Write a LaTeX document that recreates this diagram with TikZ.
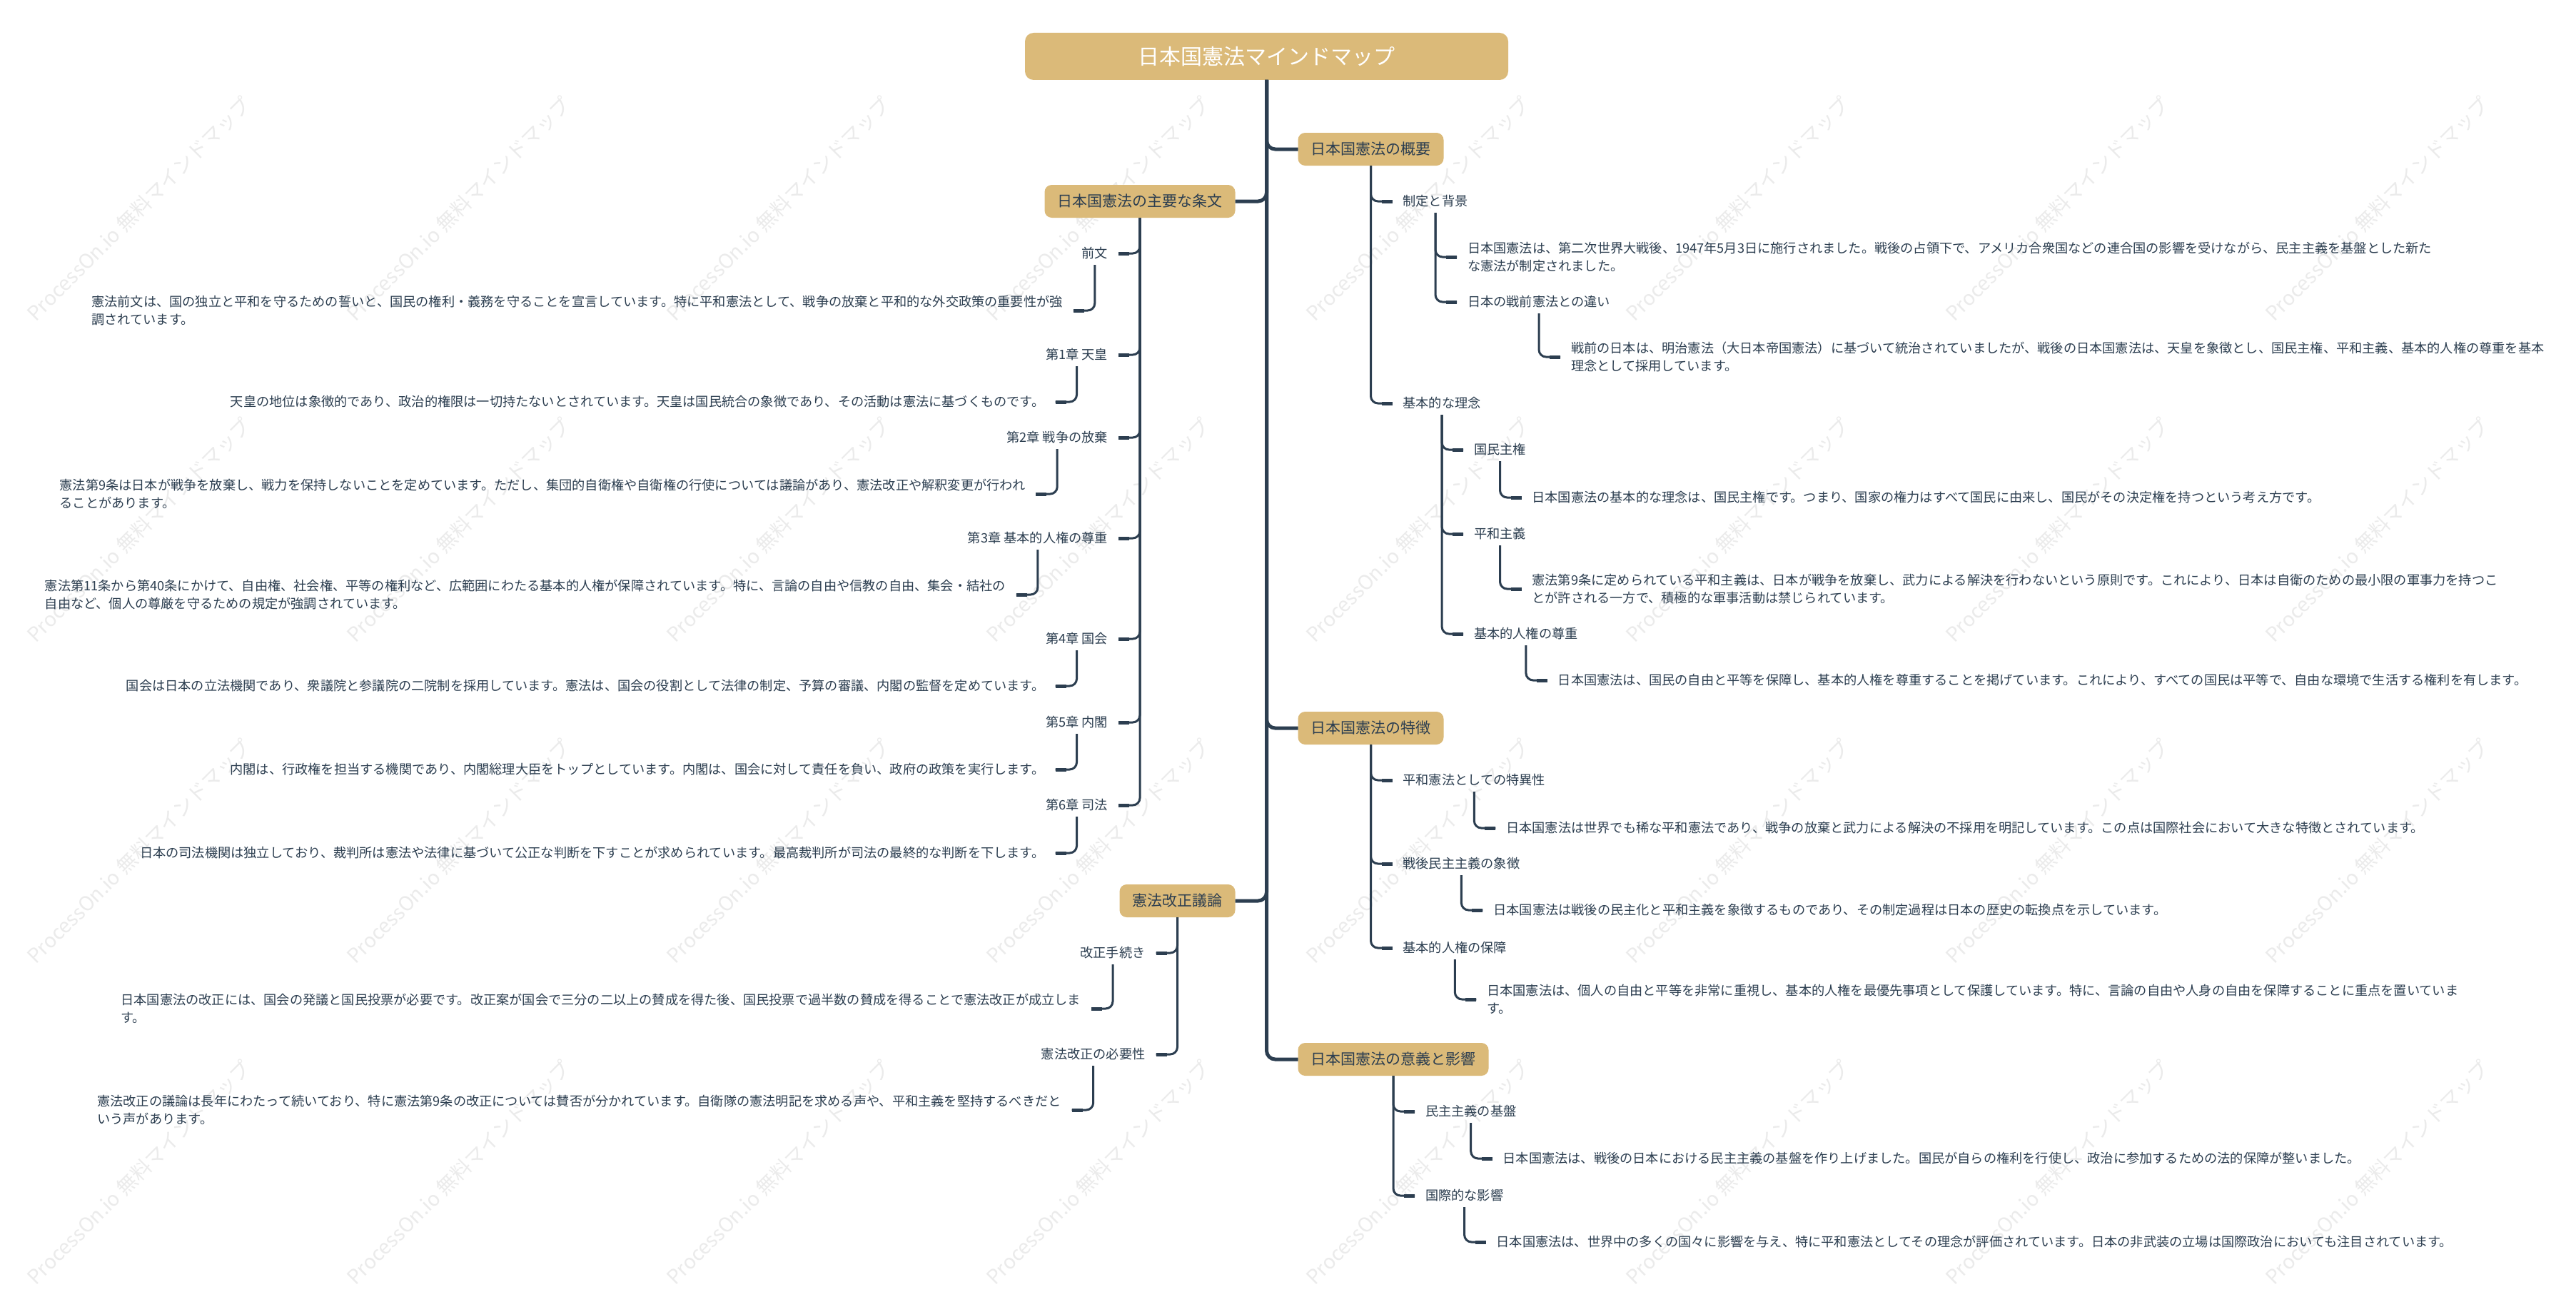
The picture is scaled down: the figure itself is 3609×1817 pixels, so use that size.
\documentclass[tikz,border=0pt]{standalone}
\usepackage{fontspec}
\setmainfont{Noto Sans CJK JP}
\definecolor{navy}{RGB}{44,62,80}
\definecolor{tanbox}{RGB}{219,186,121}
\newcommand\leaffont{\fontsize{18.2pt}{25pt}\selectfont\lineskiplimit -50pt\relax}
\tikzset{
 topbox/.style={fill=tanbox, rounded corners=10pt, minimum height=46pt, inner xsep=18pt, inner ysep=0pt, text=navy, font=\fontsize{21pt}{25pt}\selectfont, outer sep=0pt},
 lbl/.style={inner xsep=15pt, inner ysep=3pt, text=navy, font=\leaffont, outer sep=0pt, align=left},
 trunk/.style={draw=navy, line width=5pt, rounded corners=12pt},
 subln/.style={draw=navy, line width=3pt, rounded corners=10pt},
 subend/.style={draw=navy, line width=5pt},
 wmark/.style={anchor=base west, rotate=45, text=black!8, font=\fontsize{28pt}{28pt}\selectfont, inner sep=0pt},
 toR/.style={anchor=west, xshift=30pt},
 toL/.style={anchor=east, xshift=-30pt},
}
\newcommand\boxR[2]{\draw[subln] (#1.south) |- (#2.west); \draw[subend] (#2.west) -- ++(-15pt,0);}
\newcommand\txtR[2]{\draw[subln] ([yshift=-16pt]#1.center) |- (#2.west); \draw[subend] (#2.west) -- ++(-15pt,0);}
\newcommand\boxL[2]{\draw[subln] (#1.south) |- (#2.east); \draw[subend] (#2.east) -- ++(15pt,0);}
\newcommand\txtL[2]{\draw[subln] ([yshift=-16pt]#1.center) |- (#2.east); \draw[subend] (#2.east) -- ++(15pt,0);}
\begin{document}
\begin{tikzpicture}[x=1pt,y=-1pt]
\useasboundingbox[fill=white] (0,0) rectangle (3609,1817);
% watermark
\foreach \r in {452,902,1352,1802}{
  \foreach \c in {50,498,946,1394,1842,2290,2738,3186}{
    \node[wmark] (wm-\r-\c) at (\c,\r) {ProcessOn.io 無料マインドマップ};
  }
}
% title
\node[fill=tanbox, rounded corners=12pt, minimum width=677pt, minimum height=66pt, text=white, font=\fontsize{30pt}{36pt}\selectfont, inner sep=0pt, outer sep=0pt] (title) at (1774.5,79) {日本国憲法マインドマップ};

% ---------- right side ----------
\node[topbox, anchor=west, xshift=44pt] (ov) at (title.south |- 0,209) {日本国憲法の概要};
\node[lbl, toR] (a1) at (ov.center |- 0,282) {制定と背景};
\node[lbl, toR] (a1l) at (a1.center |- 0,360) {日本国憲法は、第二次世界大戦後、1947年5月3日に施行されました。戦後の占領下で、アメリカ合衆国などの連合国の影響を受けながら、民主主義を基盤とした新た\\な憲法が制定されました。};
\node[lbl, toR] (a2) at (a1.center |- 0,423) {日本の戦前憲法との違い};
\node[lbl, toR] (a2l) at (a2.center |- 0,500) {戦前の日本は、明治憲法（大日本帝国憲法）に基づいて統治されていましたが、戦後の日本国憲法は、天皇を象徴とし、国民主権、平和主義、基本的人権の尊重を基本\\理念として採用しています。};
\node[lbl, toR] (a3) at (ov.center |- 0,565) {基本的な理念};
\node[lbl, toR] (a31) at (a3.center |- 0,630) {国民主権};
\node[lbl, toR] (a31l) at (a31.center |- 0,697) {日本国憲法の基本的な理念は、国民主権です。つまり、国家の権力はすべて国民に由来し、国民がその決定権を持つという考え方です。};
\node[lbl, toR] (a32) at (a3.center |- 0,748) {平和主義};
\node[lbl, toR] (a32l) at (a32.center |- 0,825) {憲法第9条に定められている平和主義は、日本が戦争を放棄し、武力による解決を行わないという原則です。これにより、日本は自衛のための最小限の軍事力を持つこ\\とが許される一方で、積極的な軍事活動は禁じられています。};
\node[lbl, toR] (a33) at (a3.center |- 0,888) {基本的人権の尊重};
\node[lbl, toR] (a33l) at (a33.center |- 0,953) {日本国憲法は、国民の自由と平等を保障し、基本的人権を尊重することを掲げています。これにより、すべての国民は平等で、自由な環境で生活する権利を有します。};

\node[topbox, anchor=west, xshift=44pt] (ft) at (title.south |- 0,1020) {日本国憲法の特徴};
\node[lbl, toR] (b1) at (ft.center |- 0,1093) {平和憲法としての特異性};
\node[lbl, toR] (b1l) at (b1.center |- 0,1160) {日本国憲法は世界でも稀な平和憲法であり、戦争の放棄と武力による解決の不採用を明記しています。この点は国際社会において大きな特徴とされています。};
\node[lbl, toR] (b2) at (ft.center |- 0,1210) {戦後民主主義の象徴};
\node[lbl, toR] (b2l) at (b2.center |- 0,1275) {日本国憲法は戦後の民主化と平和主義を象徴するものであり、その制定過程は日本の歴史の転換点を示しています。};
\node[lbl, toR] (b3) at (ft.center |- 0,1328) {基本的人権の保障};
\node[lbl, toR] (b3l) at (b3.center |- 0,1400) {日本国憲法は、個人の自由と平等を非常に重視し、基本的人権を最優先事項として保護しています。特に、言論の自由や人身の自由を保障することに重点を置いていま\\す。};

\node[topbox, anchor=west, xshift=44pt] (sig) at (title.south |- 0,1484) {日本国憲法の意義と影響};
\node[lbl, toR] (c1) at (sig.center |- 0,1557) {民主主義の基盤};
\node[lbl, toR] (c1l) at (c1.center |- 0,1623) {日本国憲法は、戦後の日本における民主主義の基盤を作り上げました。国民が自らの権利を行使し、政治に参加するための法的保障が整いました。};
\node[lbl, toR] (c2) at (sig.center |- 0,1675) {国際的な影響};
\node[lbl, toR] (c2l) at (c2.center |- 0,1740) {日本国憲法は、世界中の多くの国々に影響を与え、特に平和憲法としてその理念が評価されています。日本の非武装の立場は国際政治においても注目されています。};

% ---------- left side ----------
\node[topbox, anchor=east, xshift=-44pt] (art) at (title.south |- 0,282) {日本国憲法の主要な条文};
\node[lbl, toL] (d0) at (art.center |- 0,355) {前文};
\node[lbl, toL] (d0l) at (d0.center |- 0,435) {憲法前文は、国の独立と平和を守るための誓いと、国民の権利・義務を守ることを宣言しています。特に平和憲法として、戦争の放棄と平和的な外交政策の重要性が強\\調されています。};
\node[lbl, toL] (d1) at (art.center |- 0,497) {第1章 天皇};
\node[lbl, toL] (d1l) at (d1.center |- 0,563) {天皇の地位は象徴的であり、政治的権限は一切持たないとされています。天皇は国民統合の象徴であり、その活動は憲法に基づくものです。};
\node[lbl, toL] (d2) at (art.center |- 0,613) {第2章 戦争の放棄};
\node[lbl, toL] (d2l) at (d2.center |- 0,692) {憲法第9条は日本が戦争を放棄し、戦力を保持しないことを定めています。ただし、集団的自衛権や自衛権の行使については議論があり、憲法改正や解釈変更が行われ\\ることがあります。};
\node[lbl, toL] (d3) at (art.center |- 0,754) {第3章 基本的人権の尊重};
\node[lbl, toL] (d3l) at (d3.center |- 0,833) {憲法第11条から第40条にかけて、自由権、社会権、平等の権利など、広範囲にわたる基本的人権が保障されています。特に、言論の自由や信教の自由、集会・結社の\\自由など、個人の尊厳を守るための規定が強調されています。};
\node[lbl, toL] (d4) at (art.center |- 0,895) {第4章 国会};
\node[lbl, toL] (d4l) at (d4.center |- 0,961) {国会は日本の立法機関であり、衆議院と参議院の二院制を採用しています。憲法は、国会の役割として法律の制定、予算の審議、内閣の監督を定めています。};
\node[lbl, toL] (d5) at (art.center |- 0,1012) {第5章 内閣};
\node[lbl, toL] (d5l) at (d5.center |- 0,1078) {内閣は、行政権を担当する機関であり、内閣総理大臣をトップとしています。内閣は、国会に対して責任を負い、政府の政策を実行します。};
\node[lbl, toL] (d6) at (art.center |- 0,1128) {第6章 司法};
\node[lbl, toL] (d6l) at (d6.center |- 0,1195) {日本の司法機関は独立しており、裁判所は憲法や法律に基づいて公正な判断を下すことが求められています。最高裁判所が司法の最終的な判断を下します。};

\node[topbox, anchor=east, xshift=-44pt] (rev) at (title.south |- 0,1262) {憲法改正議論};
\node[lbl, toL] (e1) at (rev.center |- 0,1335) {改正手続き};
\node[lbl, toL] (e1l) at (e1.center |- 0,1413) {日本国憲法の改正には、国会の発議と国民投票が必要です。改正案が国会で三分の二以上の賛成を得た後、国民投票で過半数の賛成を得ることで憲法改正が成立しま\\す。};
\node[lbl, toL] (e2) at (rev.center |- 0,1477) {憲法改正の必要性};
\node[lbl, toL] (e2l) at (e2.center |- 0,1555) {憲法改正の議論は長年にわたって続いており、特に憲法第9条の改正については賛否が分かれています。自衛隊の憲法明記を求める声や、平和主義を堅持するべきだと\\いう声があります。};

% ---------- connectors ----------
\draw[trunk] (title.south) |- (ov.west);
\draw[trunk] (title.south) |- (art.east);
\draw[trunk] (title.south) |- (ft.west);
\draw[trunk] (title.south) |- (rev.east);
\draw[trunk] (title.south) |- (sig.west);

\boxR{ov}{a1} \boxR{ov}{a3}
\txtR{a1}{a1l} \txtR{a1}{a2} \txtR{a2}{a2l}
\txtR{a3}{a31} \txtR{a3}{a32} \txtR{a3}{a33}
\txtR{a31}{a31l} \txtR{a32}{a32l} \txtR{a33}{a33l}
\boxR{ft}{b1} \boxR{ft}{b2} \boxR{ft}{b3}
\txtR{b1}{b1l} \txtR{b2}{b2l} \txtR{b3}{b3l}
\boxR{sig}{c1} \boxR{sig}{c2}
\txtR{c1}{c1l} \txtR{c2}{c2l}

\boxL{art}{d0} \boxL{art}{d1} \boxL{art}{d2} \boxL{art}{d3} \boxL{art}{d4} \boxL{art}{d5} \boxL{art}{d6}
\txtL{d0}{d0l} \txtL{d1}{d1l} \txtL{d2}{d2l} \txtL{d3}{d3l} \txtL{d4}{d4l} \txtL{d5}{d5l} \txtL{d6}{d6l}
\boxL{rev}{e1} \boxL{rev}{e2}
\txtL{e1}{e1l} \txtL{e2}{e2l}
\end{tikzpicture}
\end{document}
